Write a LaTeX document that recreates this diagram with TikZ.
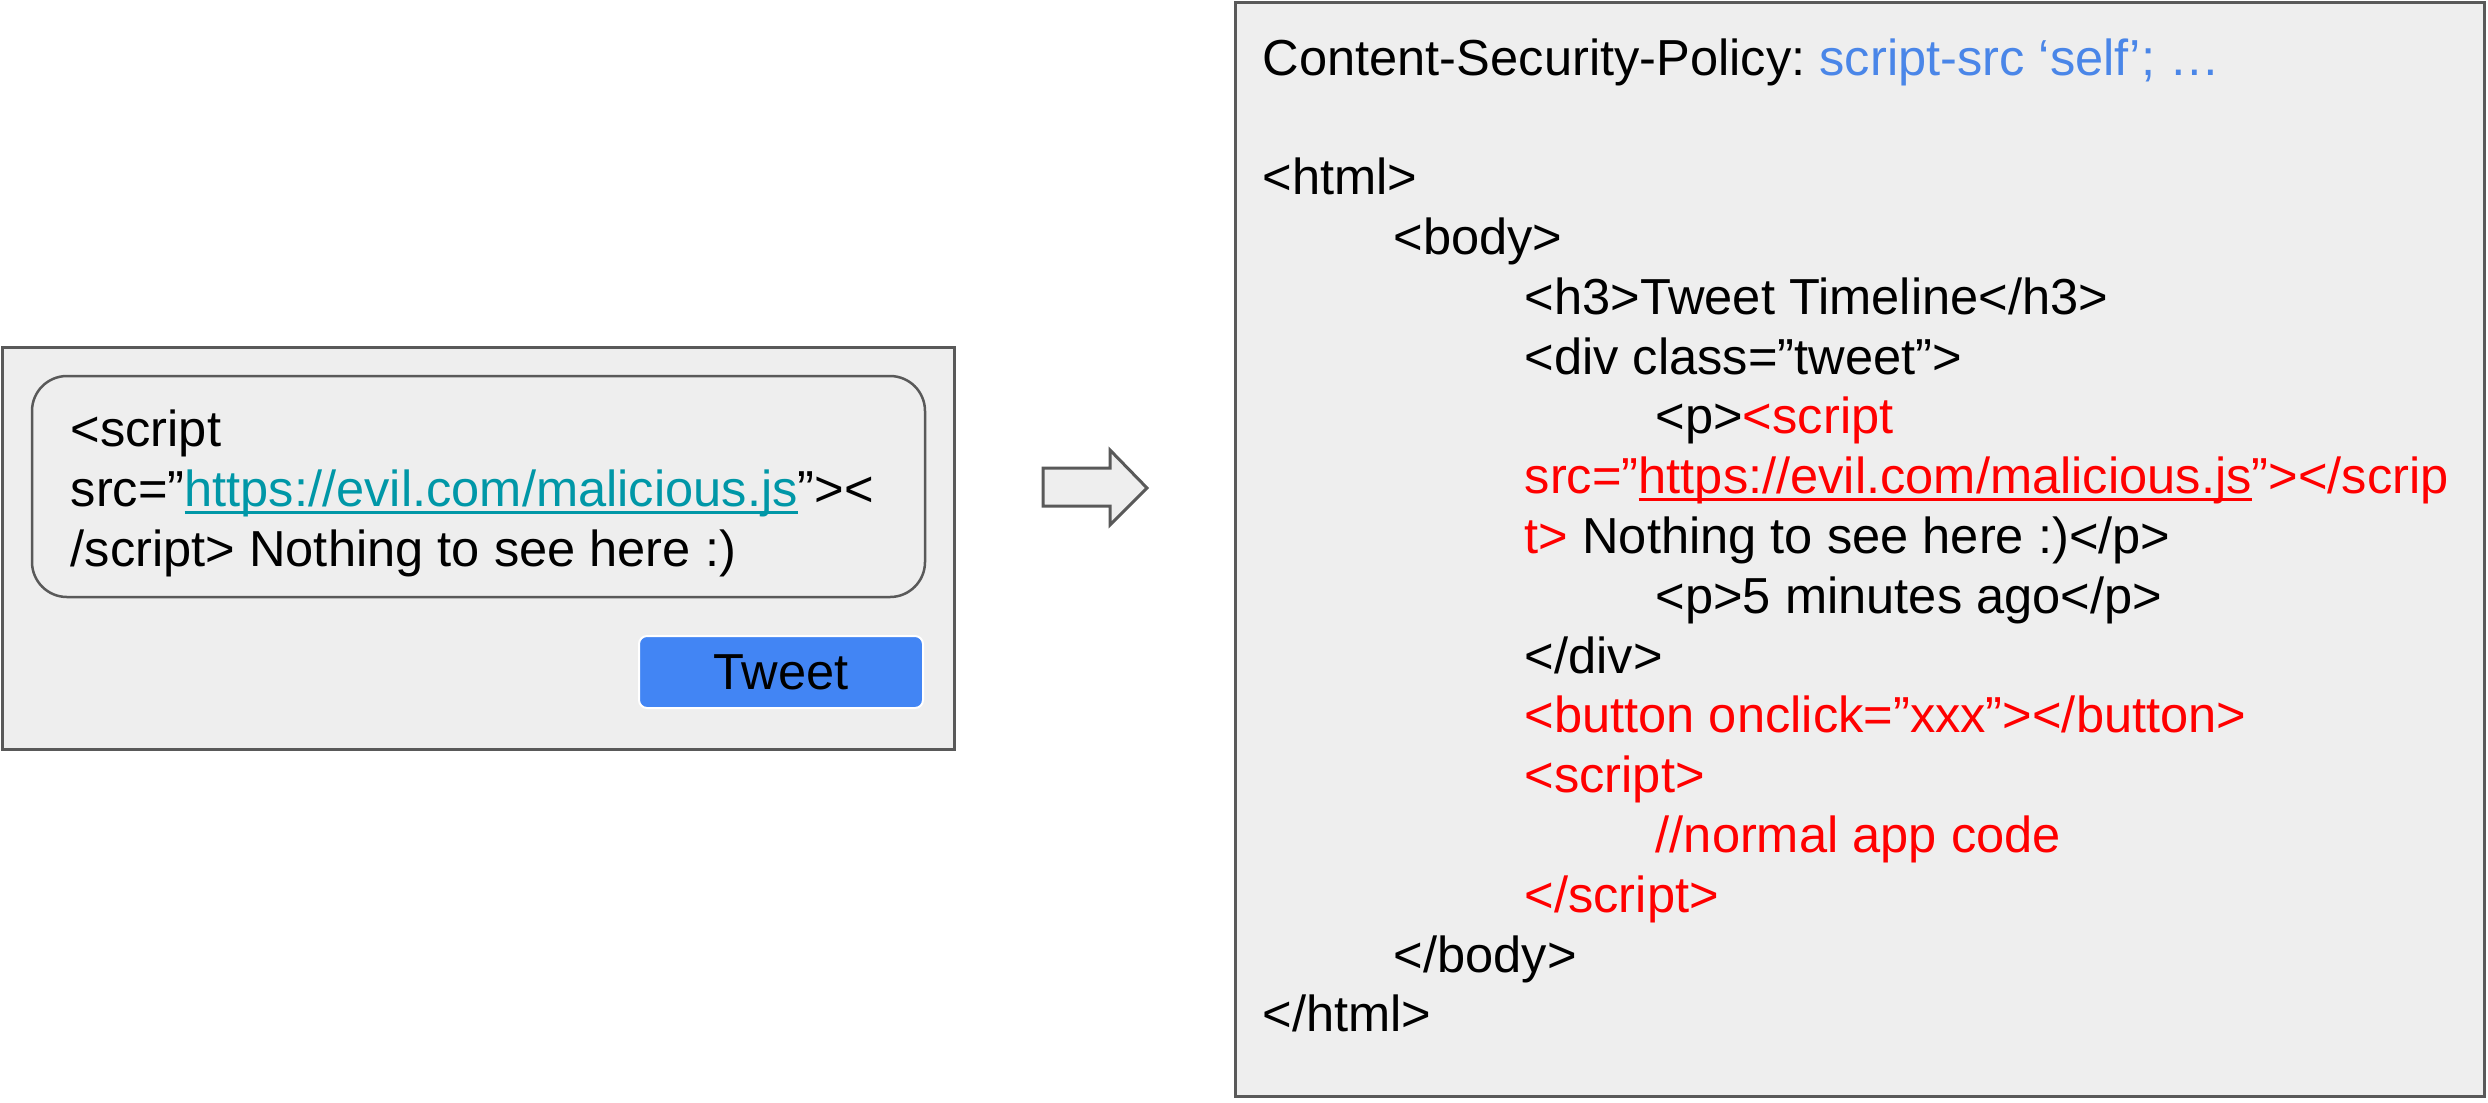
\documentclass[tikz,border=0pt]{standalone}
\usepackage{fontspec}
\setmainfont{Liberation Sans}
\usepackage{xcolor}
\usepackage{tikz}
\usetikzlibrary{positioning}
\frenchspacing

\definecolor{panelgray}{HTML}{EEEEEE}
\definecolor{edgegray}{HTML}{595959}
\definecolor{linkteal}{HTML}{0097A7}
\definecolor{cspblue}{HTML}{4A86E8}
\definecolor{xssred}{HTML}{FF0000}
\definecolor{btnblue}{HTML}{4285F4}

% underline with a thicker rule than \underline gives
\newsavebox{\ulbox}
\newcommand{\undl}[1]{\sbox{\ulbox}{#1}\rlap{\rule[-2.2pt]{\wd\ulbox}{0.9pt}}\usebox{\ulbox}}

\tikzset{
  panel/.style={draw=edgegray, fill=panelgray, line width=0.03cm},
  inputbox/.style={draw=edgegray, fill=panelgray, line width=0.025cm,
    rounded corners=0.35cm},
  tweetbtn/.style={draw=white, fill=btnblue, line width=0.02cm,
    rounded corners=0.08cm, minimum width=2.84cm, minimum height=0.72cm,
    inner sep=0pt},
  blockarrow/.style={draw=edgegray, fill=panelgray, line width=0.03cm,
    line join=miter},
  codeline/.style={anchor=base west, inner sep=0pt},
  typed/.style={anchor=base west, inner sep=0pt, align=left}
}

\begin{document}
\begin{tikzpicture}[font=\fontsize{14.4pt}{17pt}\selectfont]
  \useasboundingbox (0,0) rectangle (24.88,-11.02);

  % Compose box with the injected tweet (base = last line).
  \draw[panel] (0.02,-3.47) rectangle (9.54,-7.49);
  \draw[inputbox] (0.32,-3.76) rectangle (9.25,-5.97);
  \node[typed] (tweettext) at (0.70,-5.66)
    {<script\\
     src=”\textcolor{linkteal}{\undl{https://evil.com/malicious.js}}”><\\
     /script> Nothing to see here :)};
  \node[tweetbtn] (tweet) at (7.81,-6.72) {Tweet};

  % Block arrow between the panels.
  \draw[blockarrow] (10.43,-4.68) -- (11.10,-4.68) -- (11.10,-4.50)
    -- (11.47,-4.88) -- (11.10,-5.25) -- (11.10,-5.06) -- (10.43,-5.06) -- cycle;

  % Rendered page with the policy header.
  \draw[panel] (12.35,-0.02) rectangle (24.84,-10.96);
  \foreach \k/\lvl/\txt in {
    0/0/{Content-Security-Policy: \textcolor{cspblue}{script-src ‘self’; …}},
    2/0/{<html>},
    3/1/{<body>},
    4/2/{<h3>Tweet Timeline</h3>},
    5/2/{<div class=”tweet”>},
    6/3/{<p>\textcolor{xssred}{<script}},
    7/2/{\textcolor{xssred}{src=”\undl{https://evil.com/malicious.js}”></scrip}},
    8/2/{\textcolor{xssred}{t>} Nothing to see here :)</p>},
    9/3/{<p>5 minutes ago</p>},
    10/2/{</div>},
    11/2/{\textcolor{xssred}{<button onclick=”xxx”></button>}},
    12/2/{\textcolor{xssred}{<script>}},
    13/3/{\textcolor{xssred}{//normal app code}},
    14/2/{\textcolor{xssred}{</script>}},
    15/1/{</body>},
    16/0/{</html>}}
    \node[codeline] (code\k) at (12.62+1.31*\lvl, -0.75-0.598*\k) {\txt};
\end{tikzpicture}
\end{document}
